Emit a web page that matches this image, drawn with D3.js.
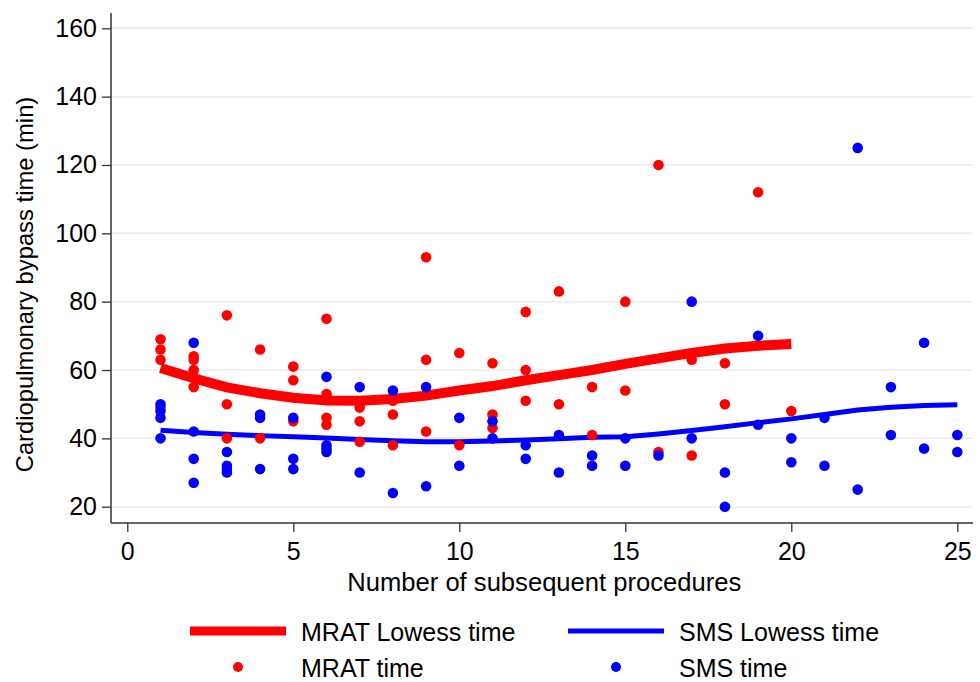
<!DOCTYPE html>
<html>
<head>
<meta charset="utf-8">
<script src="https://cdn.jsdelivr.net/npm/d3@7"></script>
<style>
  body { margin: 0; background: #fff; }
  text { font-family: "Liberation Sans", Arial, Helvetica, sans-serif; fill: #000; }
</style>
</head>
<body>
<svg id="svg"></svg>
<script>
const width = 980;
const height = 682;

// procedure number -> bypass time (min)
const mratTimes = [
    [1, 69], [1, 66], [1, 63], [1, 49],
    [2, 64], [2, 63], [2, 60], [2, 58], [2, 55],
    [3, 76], [3, 50], [3, 40],
    [4, 66], [4, 40],
    [5, 61], [5, 57], [5, 45],
    [6, 75], [6, 53], [6, 52], [6, 46], [6, 44],
    [7, 49], [7, 45], [7, 39],
    [8, 51], [8, 47], [8, 38],
    [9, 93], [9, 63], [9, 42],
    [10, 65], [10, 38],
    [11, 62], [11, 47], [11, 43],
    [12, 77], [12, 60], [12, 51],
    [13, 83], [13, 50],
    [14, 55], [14, 41],
    [15, 80], [15, 54],
    [16, 120], [16, 36],
    [17, 63], [17, 35],
    [18, 62], [18, 50],
    [19, 112],
    [20, 48]
];

const smsTimes = [
    [1, 50], [1, 48], [1, 46], [1, 40],
    [2, 68], [2, 42], [2, 34], [2, 27],
    [3, 36], [3, 32], [3, 31], [3, 30],
    [4, 47], [4, 46], [4, 31],
    [5, 46], [5, 34], [5, 31],
    [6, 58], [6, 38], [6, 37], [6, 36],
    [7, 55], [7, 30],
    [8, 54], [8, 24],
    [9, 55], [9, 26],
    [10, 46], [10, 32],
    [11, 45], [11, 40],
    [12, 38], [12, 34],
    [13, 41], [13, 30],
    [14, 35], [14, 32],
    [15, 40], [15, 32],
    [16, 35],
    [17, 80], [17, 40],
    [18, 30], [18, 20],
    [19, 70], [19, 44],
    [20, 40], [20, 33],
    [21, 46], [21, 32],
    [22, 125], [22, 25],
    [23, 55], [23, 41],
    [24, 68], [24, 37],
    [25, 41], [25, 36]
];

// lowess fits, one value per procedure number starting at 1
const mratLowess = [60.6, 57.6, 54.9, 53.2, 51.9, 51.1, 51.0, 51.5, 52.5, 54.0,
    55.3, 57.0, 58.5, 60.0, 61.8, 63.4, 65.0, 66.3, 67.1, 67.6];
const smsLowess = [42.4, 41.7, 41.2, 40.8, 40.5, 40.1, 39.7, 39.3, 39.0, 39.0,
    39.2, 39.5, 39.9, 40.3, 40.5, 41.3, 42.3, 43.4, 44.6, 45.7,
    47.0, 48.3, 49.1, 49.6, 49.8];

const xTicks = [0, 5, 10, 15, 20, 25];
const yTicks = [20, 40, 60, 80, 100, 120, 140, 160];

const legendItems = [
    {label: "MRAT Lowess time", type: "line", color: "#ff0000", w: 9},
    {label: "SMS Lowess time", type: "line", color: "#0000ff", w: 5},
    {label: "MRAT time", type: "dot", color: "#ff0000"},
    {label: "SMS time", type: "dot", color: "#0000ff"}
];

// plot frame
const frame = {left: 111, right: 973, top: 13, bottom: 523};

const x = d3.scaleLinear().domain([0, 25]).range([127.3, 957.3]);
const y = d3.scaleLinear().domain([20, 160]).range([506.7, 28.3]);

const svg = d3.select("#svg")
    .attr("width", width)
    .attr("height", height);

svg.append("rect")
    .attr("width", width)
    .attr("height", height)
    .attr("fill", "#fff");

// grid
svg.append("g")
    .selectAll("line")
    .data(yTicks)
    .join("line")
    .attr("x1", frame.left)
    .attr("x2", frame.right)
    .attr("y1", d => y(d))
    .attr("y2", d => y(d))
    .attr("stroke", "#ececec")
    .attr("stroke-width", 1.5);

// axes
const yAxis = svg.append("g")
    .attr("transform", `translate(${frame.left},0)`)
    .call(d3.axisLeft(y).tickValues(yTicks).tickSize(9).tickPadding(5));

const xAxis = svg.append("g")
    .attr("transform", `translate(0,${frame.bottom})`)
    .call(d3.axisBottom(x).tickValues(xTicks).tickSize(9).tickPadding(10));

[yAxis, xAxis].forEach(g => {
    g.select(".domain").remove();
    g.selectAll("line").attr("stroke", "#333").attr("stroke-width", 1.3);
    g.selectAll("text").style("font-size", "25px").attr("fill", "#000");
});

svg.append("line")
    .attr("x1", frame.left).attr("x2", frame.left)
    .attr("y1", frame.top).attr("y2", frame.bottom)
    .attr("stroke", "#333").attr("stroke-width", 1.5);
svg.append("line")
    .attr("x1", frame.left).attr("x2", frame.right)
    .attr("y1", frame.bottom).attr("y2", frame.bottom)
    .attr("stroke", "#333").attr("stroke-width", 1.5);

svg.append("text")
    .attr("x", (x(0) + x(25)) / 2 + 2)
    .attr("y", 591)
    .attr("text-anchor", "middle")
    .style("font-size", "25.6px")
    .text("Number of subsequent procedures");

svg.append("text")
    .attr("transform", `translate(33,${(y(20) + y(160)) / 2 + 17}) rotate(-90)`)
    .attr("text-anchor", "middle")
    .style("font-size", "23.8px")
    .text("Cardiopulmonary bypass time (min)");

// lowess lines
const line = d3.line()
    .x((d, i) => x(i + 1))
    .y(d => y(d));

svg.append("path")
    .attr("d", line(mratLowess))
    .attr("fill", "none")
    .attr("stroke", "#ff0000")
    .attr("stroke-width", 10);

svg.append("path")
    .attr("d", line(smsLowess))
    .attr("fill", "none")
    .attr("stroke", "#0000ff")
    .attr("stroke-width", 5);

// scatter points
svg.append("g")
    .selectAll("circle")
    .data(mratTimes)
    .join("circle")
    .attr("cx", d => x(d[0]))
    .attr("cy", d => y(d[1]))
    .attr("r", 5.3)
    .attr("fill", "#ff0000");

svg.append("g")
    .selectAll("circle")
    .data(smsTimes)
    .join("circle")
    .attr("cx", d => x(d[0]))
    .attr("cy", d => y(d[1]))
    .attr("r", 5.3)
    .attr("fill", "#0000ff");

// legend, 2 columns x 2 rows
const legend = svg.append("g");
legendItems.forEach((d, i) => {
    const col = i % 2, row = Math.floor(i / 2);
    const lx = 190 + col * 378;
    const ly = 631 + row * 36;
    if (d.type === "line") {
        legend.append("line")
            .attr("x1", lx).attr("x2", lx + 96)
            .attr("y1", ly).attr("y2", ly)
            .attr("stroke", d.color)
            .attr("stroke-width", d.w);
    } else {
        legend.append("circle")
            .attr("cx", lx + 48).attr("cy", ly)
            .attr("r", 5)
            .attr("fill", d.color);
    }
    legend.append("text")
        .attr("x", lx + 111)
        .attr("y", ly + 10)
        .style("font-size", "25px")
        .text(d.label);
});
</script>
</body>
</html>
